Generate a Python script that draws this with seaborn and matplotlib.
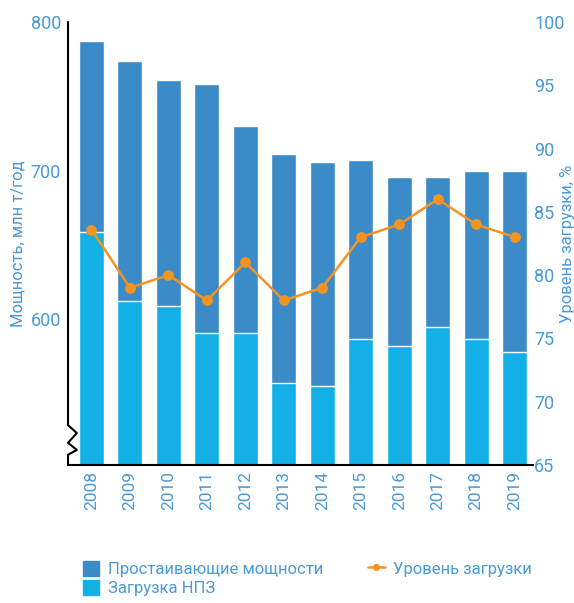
import numpy as np
import pandas as pd
import matplotlib
matplotlib.use("Agg")
import matplotlib.pyplot as plt
import seaborn as sns
from matplotlib.lines import Line2D
from matplotlib.patches import Patch

years = ["2008", "2009", "2010", "2011", "2012", "2013", "2014", "2015", "2016", "2017", "2018", "2019"]
capacity = [787, 774, 761, 758, 730, 711, 706, 707, 696, 696, 700, 700]
refining = [659, 612, 609, 591, 591, 557, 555, 587, 582, 595, 587, 578]
load_pct = [83.6, 79, 80, 78, 81, 78, 79, 83, 84, 86, 84, 83]

dark = "#3a8bc8"
light = "#12b0e6"
orange = "#f39322"
txt = "#4a9ad6"

sns.set_style("white")
plt.rcParams["font.family"] = ["Roboto", "DejaVu Sans"]

df = pd.DataFrame({"year": years, "capacity": capacity, "refining": refining, "load": load_pct})

fig = plt.figure(figsize=(5.74, 6.03), dpi=100)
ax = fig.add_axes([0.1185, 0.2289, 0.81, 0.7347])

sns.barplot(data=df, x="year", y="capacity", color=dark, saturation=1, width=0.65, ax=ax)
sns.barplot(data=df, x="year", y="refining", color=light, saturation=1, width=0.65, ax=ax)

ax.set_ylim(502, 800)
ax.set_xlim(-0.61, 11.475)
ax.set_yticks([600, 700, 800])
ax.set_xlabel("")
ax.set_ylabel("Мощность, млн т/год", color=txt, fontsize=12)
ax.yaxis.set_label_coords(-0.091, 0.5)
ax.tick_params(axis="y", colors=txt, labelsize=13, length=0, pad=5)
ax.tick_params(axis="x", colors=txt, labelsize=12.5, length=0, pad=4, rotation=90)
for s in ["top", "right", "left"]:
    ax.spines[s].set_visible(False)
ax.spines["bottom"].set_color("black")
ax.spines["bottom"].set_linewidth(1.5)

# left spine with break mark
zx = [0, 0, 0.019, 0, 0.019, 0, 0]
zy = [1, 0.090, 0.072, 0.050, 0.034, 0.023, 0]
ax.add_line(Line2D(zx, zy, transform=ax.transAxes, color="black", lw=1.5, clip_on=False))

ax2 = ax.twinx()
sns.lineplot(x=np.arange(len(years)), y=df["load"], color=orange, marker="o", markersize=7,
             markeredgecolor=orange, lw=1.8, ax=ax2)
ax2.set_ylim(65, 100)
ax2.set_xlim(-0.61, 11.475)
ax2.set_yticks(range(65, 101, 5))
ax2.set_ylabel("Уровень загрузки, %", color=txt, fontsize=12)
ax2.yaxis.set_label_coords(1.058, 0.5)
ax2.tick_params(axis="y", colors=txt, labelsize=13, length=0, pad=1)
for s in ["top", "right", "left", "bottom"]:
    ax2.spines[s].set_visible(False)

handles = [Patch(color=dark), Patch(color=light),
           Line2D([0], [0], color=orange, marker="o", markersize=4, lw=1.8)]
labels = ["Простаивающие мощности", "Загрузка НПЗ", "Уровень загрузки"]
fig.legend(handles, labels, ncol=2, loc="lower left", bbox_to_anchor=(0.118, -0.014),
           frameon=False, fontsize=12, labelcolor=txt, handlelength=1.0, handleheight=1.0,
           handletextpad=0.5, columnspacing=2.7, labelspacing=0.2)

fig.savefig("out.png", dpi=100)
